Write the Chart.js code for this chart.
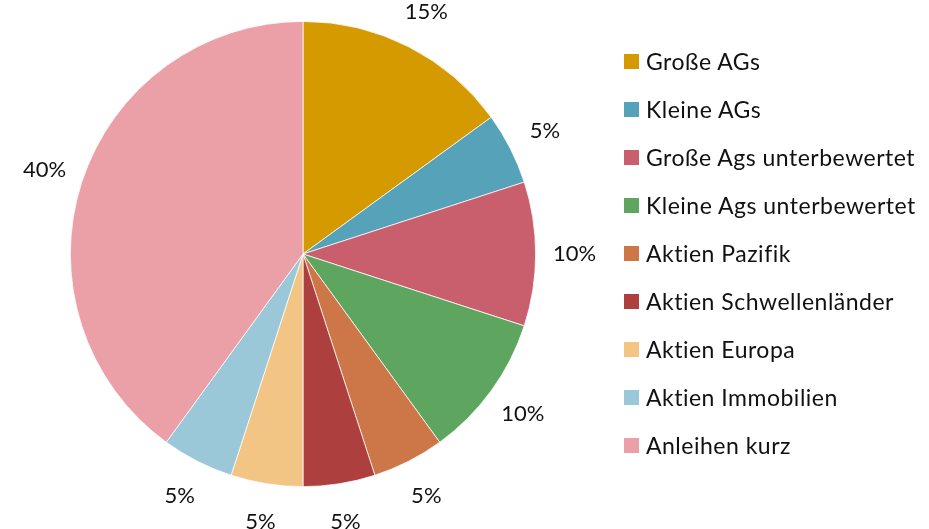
<!DOCTYPE html>
<html>
<head>
<meta charset="utf-8">
<script src="https://cdn.jsdelivr.net/npm/chart.js@4"></script>
<style>
    body { margin: 0; background: #fff; }
    #wrap { position: relative; width: 929px; height: 529px; }
    #legend {
        position: absolute; left: 624px; top: 37px;
        font-family: Lato, "Open Sans", sans-serif; font-size: 23px; letter-spacing: 0.5px; color: #111;
    }
    .item { height: 48px; display: flex; align-items: center; white-space: nowrap; }
    .box { width: 15px; height: 15px; margin-right: 7px; flex: none; }
</style>
</head>
<body>
<div id="wrap">
    <canvas id="pieChart" width="929" height="529"></canvas>
    <div id="legend"></div>
</div>
<script>
// ========================
// DATA
// ========================
const categories = [
    'Große AGs',
    'Kleine AGs',
    'Große Ags unterbewertet',
    'Kleine Ags unterbewertet',
    'Aktien Pazifik',
    'Aktien Schwellenländer',
    'Aktien Europa',
    'Aktien Immobilien',
    'Anleihen kurz'
];
const shares = [15, 5, 10, 10, 5, 5, 5, 5, 40];
const colors = ['#d49a00', '#56a2b8', '#c95e6d', '#5ea55f', '#cd7648', '#ae3f3f', '#f3c585', '#9ac8d8', '#eba0a8'];

// ========================
// PERCENT LABELS OUTSIDE SLICES
// ========================
const outsideLabels = {
    id: 'outsideLabels',
    afterDatasetsDraw(chart) {
        const ctx = chart.ctx;
        const meta = chart.getDatasetMeta(0);
        const total = shares.reduce(function(a, b) { return a + b; }, 0);
        ctx.save();
        ctx.font = '22px Lato, "Open Sans", sans-serif';
        ctx.fillStyle = '#111';
        ctx.textAlign = 'center';
        ctx.textBaseline = 'middle';
        meta.data.forEach(function(arc, i) {
            const p = arc.getProps(['x', 'y', 'startAngle', 'endAngle', 'outerRadius'], true);
            const mid = (p.startAngle + p.endAngle) / 2;
            const r = p.outerRadius + 39;
            const pct = Math.round(shares[i] / total * 100) + '%';
            ctx.fillText(pct, p.x + Math.cos(mid) * r, p.y + Math.sin(mid) * r);
        });
        ctx.restore();
    }
};

new Chart(document.getElementById('pieChart'), {
    type: 'pie',
    data: {
        labels: categories,
        datasets: [{
            data: shares,
            backgroundColor: colors,
            borderColor: '#ffffff',
            borderWidth: 0.75
        }]
    },
    options: {
        responsive: false,
        animation: false,
        layout: { padding: { left: 70, top: 21, right: 393, bottom: 42 } },
        plugins: {
            legend: { display: false },
            tooltip: { enabled: false }
        }
    },
    plugins: [outsideLabels]
});

// ========================
// LEGEND
// ========================
const legend = document.getElementById('legend');
categories.forEach(function(name, i) {
    const row = document.createElement('div');
    row.className = 'item';
    row.innerHTML = `<span class="box" style="background:${colors[i]}"></span><span>${name}</span>`;
    legend.appendChild(row);
});
</script>
</body>
</html>
